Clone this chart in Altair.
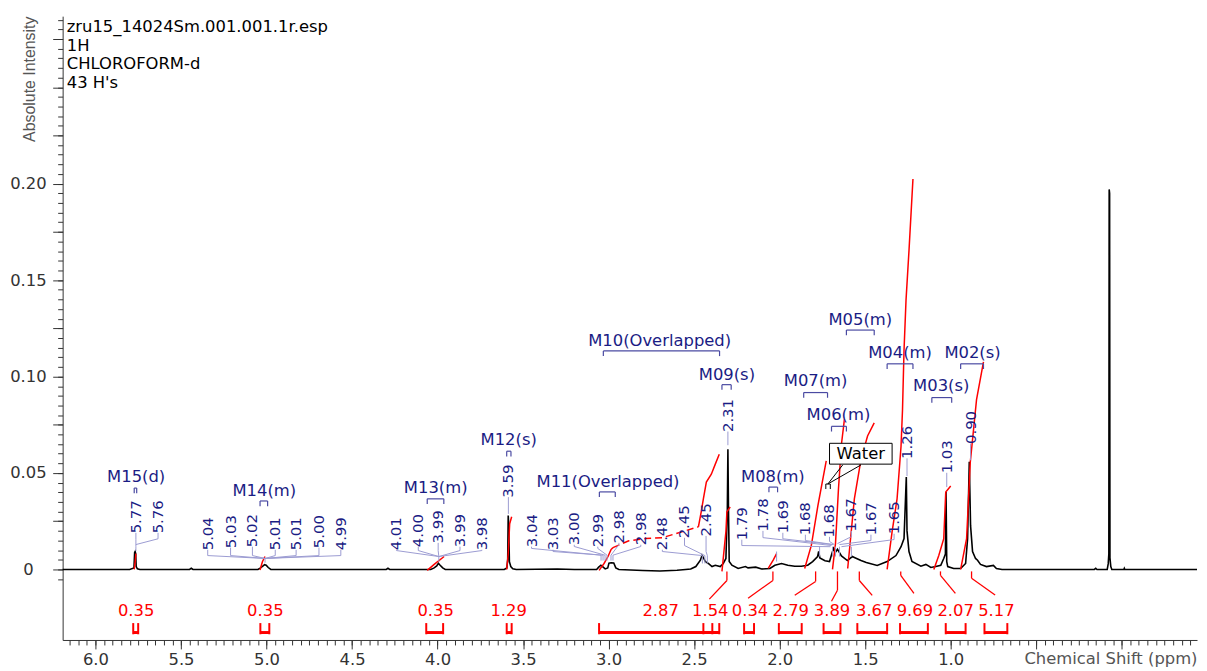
import altair as alt
import pandas as pd

HFONT = "DejaVu Sans"
RFONT = "Liberation Sans"
NAVY = "#1a1c84"
LAV = "#9b9bd2"
BRK = "#4a4aa2"
RED = "#ff0000"
AXC = "#333333"

# ---------------- spectrum trace: chemical shift (ppm) / absolute intensity ----------------
spec_ppm = [6.192, 5.80, 5.775, 5.771, 5.768, 5.765, 5.762, 5.755, 5.74,
            5.45, 5.44, 5.43,
            5.05, 5.035, 5.02, 5.012, 5.002, 4.99, 4.975,
            4.30, 4.29, 4.28,
            4.04, 4.02, 4.005, 3.995, 3.985, 3.97, 3.955,
            3.61, 3.595, 3.59, 3.587, 3.584, 3.58, 3.572, 3.56, 3.54, 3.30, 3.20,
            3.07, 3.058, 3.045, 3.035, 3.02, 3.005, 2.998, 2.985, 2.97, 2.958, 2.94,
            2.80, 2.70, 2.60, 2.55, 2.52, 2.49, 2.4635, 2.4536, 2.4344, 2.417, 2.3955, 2.3763, 2.3473, 2.3299,
            2.3142, 2.306, 2.3026, 2.299, 2.295, 2.2793, 2.2427, 2.20, 2.1847, 2.14, 2.1051, 2.0569,
            2.0279, 1.989, 1.9524, 1.9117, 1.8728, 1.8362, 1.8072, 1.7782, 1.772, 1.765, 1.735,
            1.7085, 1.6853, 1.6736, 1.662, 1.6388, 1.604, 1.5749, 1.5633, 1.5244, 1.4936, 1.4297,
            1.3717, 1.32, 1.2904, 1.2729, 1.2596, 1.2555, 1.2439, 1.2265, 1.1742, 1.1452, 1.1162,
            1.0871, 1.0581, 1.0407, 1.031, 1.0273, 1.0232, 1.0174, 0.9826, 0.9419,
            0.9129, 0.9013, 0.8914, 0.8839, 0.8723, 0.8548, 0.8432, 0.8258, 0.7909, 0.7503, 0.7329, 0.70,
            0.16, 0.152, 0.145, 0.085, 0.079, 0.0755, 0.0735, 0.071, 0.069, 0.064, 0.058,
            -0.012, -0.015, -0.018, -0.44]
spec_int = [0.0, 0.0, 0.0008, 0.0088, 0.0093, 0.0082, 0.0015, 0.0003, 0.0,
            0.0, 0.0006, 0.0,
            0.0, 0.0008, 0.0018, 0.0025, 0.0022, 0.001, 0.0,
            0.0, 0.0006, 0.0,
            0.0, 0.0008, 0.0018, 0.0032, 0.0022, 0.0008, 0.0,
            0.0, 0.0008, 0.005, 0.028, 0.023, 0.004, 0.0015, 0.0004, 0.0, 0.0002, 0.0,
            0.0, 0.0012, 0.0022, 0.0015, 0.0003, 0.0008, 0.0033, 0.0035, 0.0034, 0.0008, 0.0,
            -0.0005, -0.0008, -0.0004, 0.0, 0.0002, 0.0015, 0.0048, 0.0074, 0.0041, 0.0031, 0.0015, 0.0022, 0.0015, 0.0031,
            0.0057, 0.030, 0.0623, 0.030, 0.0041, 0.0022, 0.0005, 0.0015, 0.0008, 0.0012, 0.0002, 0.0005,
            0.0022, 0.0031, 0.0022, 0.0017, 0.0017, 0.0022, 0.0041, 0.0067, 0.0093, 0.006, 0.0045,
            0.0041, 0.011, 0.009, 0.0105, 0.007, 0.0046, 0.0067, 0.0062, 0.0046, 0.0036, 0.0021,
            0.0041, 0.0072, 0.0118, 0.016, 0.0479, 0.02, 0.0093, 0.0041, 0.0017, 0.0026, 0.001,
            0.0015, 0.0022, 0.0057, 0.008, 0.0402, 0.004, 0.0015, 0.0005, 0.0005,
            0.0031, 0.016, 0.0558, 0.0227, 0.0093, 0.0057, 0.0048, 0.0026, 0.0015, 0.0021, 0.0005, 0.0,
            0.0, 0.0006, 0.0, 0.0, 0.003, 0.008, 0.197, 0.195, 0.006, 0.0015, 0.0,
            0.0, 0.0006, 0.0, 0.0]

# ---------------- header ----------------
header_lines = ["zru15_14024Sm.001.001.1r.esp", "1H", "CHLOROFORM-d", "43 H's"]
header_ppm = 6.168
header_y = [0.2786, 0.2688, 0.2595, 0.2497]

# ---------------- multiplet labels and brackets ----------------
mult_name = ["M15(d)", "M14(m)", "M13(m)", "M12(s)", "M11(Overlapped)", "M10(Overlapped)", "M09(s)",
             "M08(m)", "M07(m)", "M06(m)", "M05(m)", "M04(m)", "M03(s)", "M02(s)"]
mult_ppm = [5.762, 5.0128, 4.011, 3.5842, 3.0035, 2.7015, 2.3084, 2.0395, 1.7898, 1.6562, 1.5285,
            1.2962, 1.0552, 0.8723]
mult_y = [0.0481, 0.0409, 0.0422, 0.0672, 0.0451, 0.1182, 0.1009, 0.0479, 0.0976, 0.0801, 0.1292,
          0.112, 0.095, 0.112]
mult_from = [5.7735, 5.0378, 4.0604, 3.5958, 3.054, 3.0308, 2.3374, 2.0627, 1.8595, 1.6969, 1.6098,
             1.3717, 1.1103, 0.9419]
mult_to = [5.759, 4.9936, 3.9634, 3.5709, 2.9611, 2.3514, 2.2834, 2.0122, 1.7201, 1.6098, 1.4472,
           1.2207, 0.9942, 0.8084]
mult_bracket_y = [0.0422, 0.0355, 0.0366, 0.0613, 0.0402, 0.1133, 0.0958, 0.0427, 0.0917, 0.0742,
                  0.1241, 0.1066, 0.0891, 0.1066]

# ---------------- peak shift labels ----------------
peak_text = ["5.77", "5.76", "5.04", "5.03", "5.02", "5.01", "5.01", "5.00", "4.99",
             "4.01", "4.00", "3.99", "3.99", "3.98", "3.59",
             "3.04", "3.03", "3.00", "2.99", "2.98", "2.98", "2.48", "2.45", "2.45", "2.31",
             "1.79", "1.78", "1.69", "1.68", "1.68", "1.67", "1.67", "1.65", "1.26", "1.03", "0.90"]
peak_lab_ppm = [5.7637, 5.6342, 5.3438, 5.2102, 5.0825, 4.9489, 4.827, 4.6934, 4.5656,
                4.2404, 4.1127, 3.9965, 3.8688, 3.741, 3.586,
                3.4506, 3.3246, 3.2009, 3.0633, 2.9396, 2.8119, 2.6858, 2.5563, 2.4303, 2.3026,
                2.2213, 2.0976, 1.9814, 1.8496, 1.7085, 1.5807, 1.4663, 1.331, 1.2555, 1.0232, 0.8839]
peak_lab_y = [0.0273, 0.0273, 0.0185, 0.0196, 0.0201, 0.0185, 0.0185, 0.0196, 0.0185,
              0.0185, 0.0201, 0.0221, 0.0201, 0.0185, 0.0458,
              0.0201, 0.0185, 0.0211, 0.0201, 0.0221, 0.0211, 0.0185, 0.0247, 0.0257, 0.0798,
              0.0237, 0.0283, 0.0273, 0.0263, 0.0252, 0.0283, 0.0263, 0.0268, 0.0659, 0.0584, 0.0736]
peak_knee_y = [0.0154, 0.0159, 0.0072, 0.0072, 0.0072, 0.0072, 0.0072, 0.0072, 0.0072,
               0.0098, 0.0098, 0.0098, 0.0098, 0.0098, 0.0288,
               0.0109, 0.0093, 0.0119, 0.0109, 0.0129, 0.0119, 0.0093, 0.0124, 0.0093, 0.0644,
               0.0124, 0.0165, 0.0159, 0.0150, 0.0145, 0.0170, 0.0150, 0.0155, 0.0484, 0.0427, 0.0566]
peak_target_ppm = [5.7637, 5.7637, 5.0087, 5.0087, 5.0087, 5.0087, 5.0087, 5.0087, 5.0087,
                   3.9926, 3.9926, 3.9926, 3.9926, 3.9926, 3.586,
                   3.0442, 3.0326, 3.0209, 3.0093, 2.9861, 2.9745, 2.4518, 2.4372, 2.4227, 2.3026,
                   1.7027, 1.6969, 1.6911, 1.6853, 1.6795, 1.662, 1.6504, 1.6388, 1.2555, 1.0232, 0.8839]
peak_target_y = [0.0118, 0.0129, 0.0057, 0.0057, 0.0057, 0.0057, 0.0057, 0.0057, 0.0057,
                 0.0067, 0.0067, 0.0067, 0.0067, 0.0067, 0.0288,
                 0.0074, 0.0074, 0.0074, 0.0074, 0.0074, 0.0074, 0.0072, 0.0072, 0.0072, 0.0644,
                 0.0118, 0.0124, 0.0129, 0.0129, 0.0129, 0.0134, 0.0129, 0.0118, 0.0484, 0.0427, 0.0566]
# short drops from the convergence points towards the peaks
drop_ppm = [5.7637, 5.0087, 3.9926, 3.0442, 3.0326, 3.0209, 3.0093, 2.9861, 2.9745,
            2.4518, 2.4372, 2.4227, 1.7666, 1.6911, 1.6736, 1.6504, 1.5807, 2.018]
drop_top = [0.0118, 0.0057, 0.0067, 0.0074, 0.0074, 0.0074, 0.0074, 0.0074, 0.0074,
            0.0072, 0.0072, 0.0072, 0.0118, 0.0118, 0.0118, 0.0118, 0.0118, 0.0093]
drop_bottom = [0.0095, 0.0035, 0.0040, 0.0046, 0.0046, 0.0046, 0.0046, 0.0046, 0.0046,
               0.0031, 0.0031, 0.0031, 0.0067, 0.0067, 0.0067, 0.0067, 0.0067, 0.0041]

# ---------------- integrals ----------------
int_text = ["0.35", "0.35", "0.35", "1.29", "2.87", "1.54", "0.34", "2.79", "3.89", "3.67", "9.69", "2.07", "5.17"]
int_label_ppm = [5.762, 5.0069, 4.011, 3.5842, 2.6957, 2.4054, 2.1731, 1.935, 1.694, 1.4472, 1.2091, 0.971, 0.7329]
int_label_y = -0.0214
int_from = [5.7793, 5.036, 4.0662, 3.5958, 3.0558, 2.2079, 2.0047, 1.7433, 1.5459, 1.2962, 1.029, 0.8026]
int_to = [5.7503, 4.9837, 3.9675, 3.5668, 2.3531, 2.1498, 1.8711, 1.6446, 1.3717, 1.1336, 0.9129, 0.669]
int_inner_ticks = [2.446, 2.3937]
# leaders from the integrated regions to their shifted values
lead_ppm = [2.3084, 2.0395, 1.7898, 1.662, 1.5343, 1.2921, 1.0598, 0.8781]
lead_knee = [-0.0057, -0.0057, -0.0062, -0.0108, -0.0057, -0.0031, -0.0031, -0.0046]
lead_end_ppm = [2.4112, 2.1847, 1.9117, 1.6969, 1.4588, 1.2149, 0.9727, 0.7404]
lead_end_y = [-0.0154, -0.0149, -0.0134, -0.0165, -0.0134, -0.0124, -0.0124, -0.0132]

curve_m15 = ([5.7735, 5.768, 5.7637], [0.0, 0.004, 0.0082])
curve_m14 = ([5.038, 5.024, 5.009], [-0.0003, 0.004, 0.0067])
curve_m13 = ([4.0604, 4.0198, 3.9617], [-0.0005, 0.0026, 0.0067])
curve_m12 = ([3.5958, 3.5871, 3.5784, 3.5668], [0.0, 0.008, 0.0237, 0.0273])
curve_m11a = ([3.0558, 3.0267, 3.0035, 2.9861, 2.9745], [-0.0005, 0.0031, 0.0067, 0.0103, 0.0113])
curve_m11b = ([2.9745, 2.8815, 2.7828, 2.6841, 2.568, 2.475], [0.0113, 0.0149, 0.016, 0.0165, 0.0196, 0.0221])
curve_m10 = ([2.475, 2.4576, 2.446, 2.4286, 2.3995, 2.3763, 2.3531],
             [0.0221, 0.0304, 0.0366, 0.0453, 0.0494, 0.0546, 0.0597])
curve_m09 = ([2.3374, 2.3142, 2.3084, 2.2892], [-0.001, 0.0196, 0.0299, 0.0324])
curve_m08 = ([2.0668, 2.0378, 2.018], [0.0005, 0.0048, 0.0082])
curve_m07 = ([1.8537, 1.8148, 1.7764, 1.7277], [0.0005, 0.0125, 0.0331, 0.0563])
curve_m06 = ([1.6911, 1.6736, 1.6562, 1.6388, 1.6214], [0.0, 0.0134, 0.0417, 0.0649, 0.0778])
curve_m05 = ([1.6022, 1.5633, 1.5244, 1.4861, 1.4472], [0.0005, 0.0366, 0.0571, 0.0692, 0.076])
curve_m04 = ([1.3717, 1.3426, 1.3136, 1.2904, 1.2817, 1.2729, 1.2613, 1.2439, 1.2207],
             [0.0, 0.0196, 0.0366, 0.0639, 0.0829, 0.1138, 0.1395, 0.1653, 0.2024])
curve_m03 = ([1.0987, 1.0697, 1.0407, 1.029, 1.0], [0.0, 0.0072, 0.016, 0.0402, 0.0433])
curve_m02 = ([0.9419, 0.9071, 0.8856, 0.849, 0.8084], [0.0, 0.016, 0.0556, 0.088, 0.1076])
solid_curves = {"m15": curve_m15, "m14": curve_m14, "m13": curve_m13, "m12": curve_m12,
                "m11a": curve_m11a, "m10": curve_m10, "m09": curve_m09, "m08": curve_m08,
                "m07": curve_m07, "m06": curve_m06, "m05": curve_m05, "m04": curve_m04,
                "m03": curve_m03, "m02": curve_m02}
dashed_curves = {"m11b": curve_m11b}

# ---------------- water marker ----------------
water_box = (1.7085, 1.3426, 0.0546, 0.0654)
water_text = (1.5256, 0.0597)
water_ptr_from = [1.6312, 1.5244]
water_ptr_y = 0.0542
water_ptr_to = (1.7184, 0.0443)

# ---------------- axis ticks ----------------
x_major_ticks = [6.0, 5.5, 5.0, 4.5, 4.0, 3.5, 3.0, 2.5, 2.0, 1.5, 1.0, 0.5, 0.0]
y_major_ticks = [0.0, 0.05, 0.10, 0.15, 0.20]
y_mid_ticks = [0.025, 0.075, 0.125, 0.175, 0.225, 0.25, 0.275]
y_minor_ticks = [round(-0.005 + 0.005 * i, 3) for i in range(59)]

# ======================================================================
xs = alt.Scale(domain=[-0.44, 6.192], reverse=True, nice=False, zero=False)
ys = alt.Scale(domain=[-0.03656, 0.28682], nice=False, zero=False)


def X(f, axis=None):
    return alt.X(f, type="quantitative", scale=xs, axis=axis)


def Y(f, axis=None):
    return alt.Y(f, type="quantitative", scale=ys, axis=axis)


x_major = alt.Axis(orient="bottom", values=x_major_ticks,
                   labelExpr="datum.value > 0.9 ? format(datum.value, '.1f') : ''",
                   tickSize=9, tickColor=AXC, tickWidth=1, domainColor=AXC, domainWidth=1,
                   labelFont=HFONT, labelFontSize=16.5, labelColor=AXC, labelPadding=3,
                   labelFlush=False, labelOverlap=False, grid=False,
                   title="Chemical Shift (ppm)", titleFont=HFONT, titleFontSize=16.5,
                   titleFontWeight="normal", titleColor="#555555", titleAlign="right",
                   titleAnchor="end", titleX=1142, titleY=24, titleBaseline="alphabetic")
x_minor = alt.Axis(orient="bottom", tickCount=130, labels=False, tickSize=5, tickColor=AXC,
                   tickWidth=1, domain=False, grid=False, title=None)
y_major = alt.Axis(orient="left", values=y_major_ticks,
                   labelExpr="datum.value == 0 ? '0' : format(datum.value, '.2f')",
                   tickSize=10, tickColor=AXC, tickWidth=1, domainColor=AXC, domainWidth=1,
                   labelFont=HFONT, labelFontSize=16.5, labelColor=AXC, labelAlign="center",
                   labelBaseline="middle", labelPadding=25, labelFlush=False, labelOverlap=False,
                   grid=False, title="Absolute Intensity", titleFont=RFONT, titleFontSize=16,
                   titleFontWeight="normal", titleColor="#555555", titleAngle=270,
                   titleX=-33, titleY=63, titleAlign="center", titleBaseline="middle")
y_mid = alt.Axis(orient="left", values=y_mid_ticks, labels=False, tickSize=10, tickColor=AXC,
                 tickWidth=1, domain=False, grid=False, title=None)
y_minor = alt.Axis(orient="left", values=y_minor_ticks, labels=False, tickSize=5, tickColor=AXC,
                   tickWidth=1, domain=False, grid=False, title=None)

layers = []

# axes carriers
layers.append(alt.Chart(pd.DataFrame({"p": [1.0]})).mark_point(opacity=0).encode(x=X("p", x_minor)))
layers.append(alt.Chart(pd.DataFrame({"v": [0.0]})).mark_point(opacity=0).encode(y=Y("v", y_mid)))
layers.append(alt.Chart(pd.DataFrame({"v": [0.0]})).mark_point(opacity=0).encode(y=Y("v", y_minor)))

# spectrum
spec_df = pd.DataFrame({"ppm": spec_ppm, "intensity": spec_int})
layers.append(alt.Chart(spec_df).mark_line(color="black", strokeWidth=1.6).encode(
    x=X("ppm", x_major), y=Y("intensity", y_major)))

# integral curves
rows = []
for name, (px, py) in solid_curves.items():
    for i, (a, b) in enumerate(zip(px, py)):
        rows.append({"curve": name, "i": i, "ppm": a, "v": b})
layers.append(alt.Chart(pd.DataFrame(rows)).mark_line(color=RED, strokeWidth=1.5).encode(
    x=X("ppm"), y=Y("v"), detail="curve:N", order="i:Q"))
rows = []
for name, (px, py) in dashed_curves.items():
    for i, (a, b) in enumerate(zip(px, py)):
        rows.append({"curve": name, "i": i, "ppm": a, "v": b})
layers.append(alt.Chart(pd.DataFrame(rows)).mark_line(color=RED, strokeWidth=1.5, strokeDash=[7, 4]).encode(
    x=X("ppm"), y=Y("v"), detail="curve:N", order="i:Q"))

# peak label leaders
segs = []
for lx, ly, kn, tx, ty in zip(peak_lab_ppm, peak_lab_y, peak_knee_y, peak_target_ppm, peak_target_y):
    bottom = ly - 0.0083
    if bottom > kn:
        segs.append({"x": lx, "y": bottom, "x2": lx, "y2": kn})
    if abs(tx - lx) > 1e-9 or abs(ty - kn) > 1e-9:
        segs.append({"x": lx, "y": kn, "x2": tx, "y2": ty})
for dx, t, b in zip(drop_ppm, drop_top, drop_bottom):
    segs.append({"x": dx, "y": t, "x2": dx, "y2": b})
layers.append(alt.Chart(pd.DataFrame(segs)).mark_rule(color=LAV, strokeWidth=1).encode(
    x=X("x"), y=Y("y"), x2="x2:Q", y2="y2:Q"))

# multiplet brackets
br = []
for a, b, yy in zip(mult_from, mult_to, mult_bracket_y):
    br.append({"x": a, "y": yy, "x2": b, "y2": yy})
    br.append({"x": a, "y": yy, "x2": a, "y2": yy - 0.0027})
    br.append({"x": b, "y": yy, "x2": b, "y2": yy - 0.0027})
layers.append(alt.Chart(pd.DataFrame(br)).mark_rule(color=BRK, strokeWidth=1.2).encode(
    x=X("x"), y=Y("y"), x2="x2:Q", y2="y2:Q"))

# peak labels (rotated)
pk_df = pd.DataFrame({"t": peak_text, "x": peak_lab_ppm, "y": peak_lab_y})
layers.append(alt.Chart(pk_df).mark_text(font=HFONT, fontSize=15, angle=270, color=NAVY,
                                         align="center", baseline="middle").encode(
    x=X("x"), y=Y("y"), text="t:N"))

# multiplet labels
ml_df = pd.DataFrame({"t": mult_name, "x": mult_ppm, "y": mult_y})
layers.append(alt.Chart(ml_df).mark_text(font=HFONT, fontSize=16.5, color=NAVY,
                                         align="center", baseline="middle").encode(
    x=X("x"), y=Y("y"), text="t:N"))

# integration brackets
ib_h = pd.DataFrame({"x": int_from, "x2": int_to, "y": [-0.0327] * len(int_from)})
layers.append(alt.Chart(ib_h).mark_rule(color=RED, strokeWidth=3).encode(
    x=X("x"), x2="x2:Q", y=Y("y")))
ib_v = pd.DataFrame({"x": int_from + int_to + int_inner_ticks})
ib_v["y"] = -0.0278
ib_v["y2"] = -0.0336
layers.append(alt.Chart(ib_v).mark_rule(color=RED, strokeWidth=2).encode(
    x=X("x"), y=Y("y"), y2="y2:Q"))

# integration leaders
ls = []
for a, k, e, ey in zip(lead_ppm, lead_knee, lead_end_ppm, lead_end_y):
    ls.append({"x": a, "y": -0.001, "x2": a, "y2": k})
    ls.append({"x": a, "y": k, "x2": e, "y2": ey})
layers.append(alt.Chart(pd.DataFrame(ls)).mark_rule(color=RED, strokeWidth=1.3).encode(
    x=X("x"), y=Y("y"), x2="x2:Q", y2="y2:Q"))

# integration values
it_df = pd.DataFrame({"t": int_text, "x": int_label_ppm, "y": [int_label_y] * len(int_text)})
layers.append(alt.Chart(it_df).mark_text(font=HFONT, fontSize=16.5, color=RED,
                                         align="center", baseline="middle").encode(
    x=X("x"), y=Y("y"), text="t:N"))

# water annotation
wb = pd.DataFrame({"x": [water_box[0]], "x2": [water_box[1]], "y": [water_box[2]], "y2": [water_box[3]]})
layers.append(alt.Chart(wb).mark_rect(fill="white", stroke="black", strokeWidth=1).encode(
    x=X("x"), x2="x2:Q", y=Y("y"), y2="y2:Q"))
layers.append(alt.Chart(pd.DataFrame({"t": ["Water"], "x": [water_text[0]], "y": [water_text[1]]})).mark_text(
    font=HFONT, fontSize=16.5, color="black", align="center", baseline="middle").encode(
    x=X("x"), y=Y("y"), text="t:N"))
wp = pd.DataFrame({"x": water_ptr_from, "y": [water_ptr_y] * 2,
                   "x2": [water_ptr_to[0]] * 2, "y2": [water_ptr_to[1]] * 2})
wp = pd.concat([wp, pd.DataFrame({"x": [1.7301, 1.7301, 1.7039], "y": [0.0443, 0.0443, 0.0443],
                                  "x2": [1.7039, 1.7301, 1.7039], "y2": [0.0443, 0.0417, 0.0417]})])
layers.append(alt.Chart(wp).mark_rule(color="black", strokeWidth=1).encode(
    x=X("x"), y=Y("y"), x2="x2:Q", y2="y2:Q"))

# header
hd = pd.DataFrame({"t": header_lines, "x": [header_ppm] * 4, "y": header_y})
layers.append(alt.Chart(hd).mark_text(font=HFONT, fontSize=16.5, color="black", align="left",
                                      baseline="alphabetic").encode(
    x=X("x"), y=Y("y"), text="t:N"))

chart = alt.layer(*layers).resolve_axis(x="independent", y="independent").properties(
    width=1142, height=628,
    autosize=alt.AutoSizeParams(type="none"),
    padding={"left": 55, "top": 6, "right": 2, "bottom": 29},
    background="white",
).configure_view(stroke=None)

chart.save("out.html", embed_options={"renderer": "svg", "actions": False})
